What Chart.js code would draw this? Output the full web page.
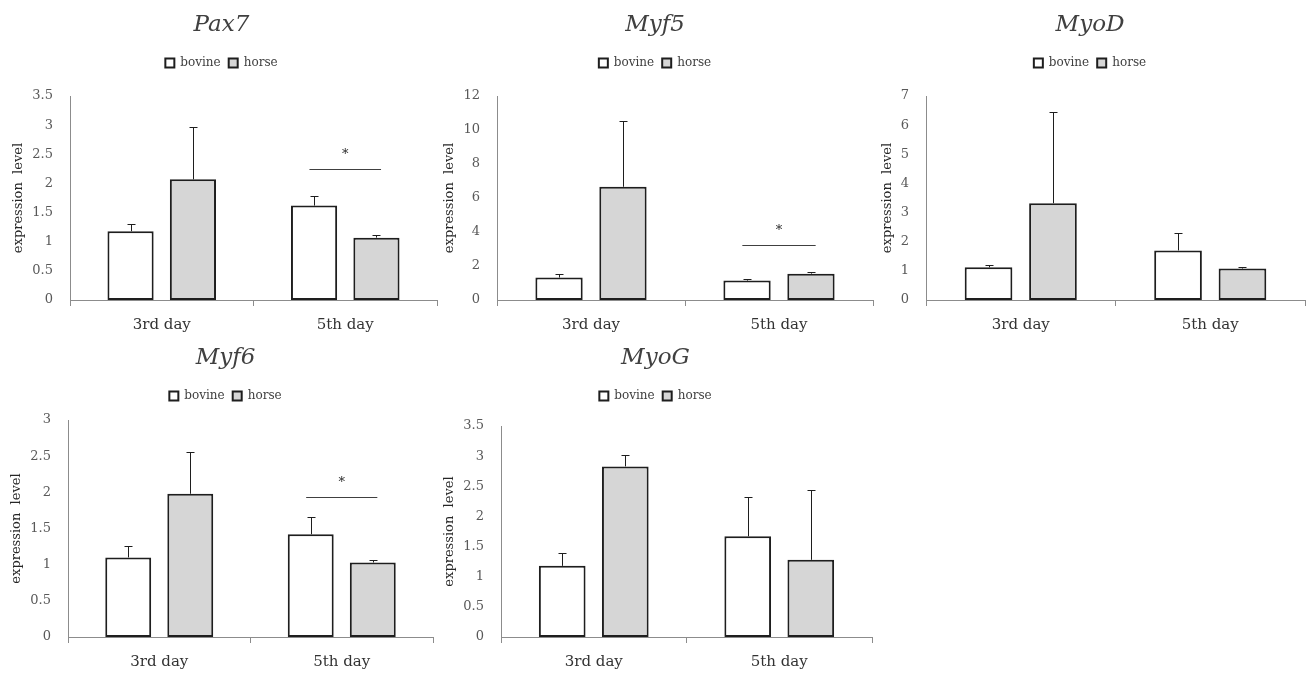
<!DOCTYPE html>
<html>
<head>
<meta charset="utf-8">
<script src="https://cdn.jsdelivr.net/npm/chart.js@4.4.0/dist/chart.umd.min.js"></script>
<style>
  body { margin: 0; background: #fff; overflow: hidden; width: 1309px; height: 673px; position: relative; }
  canvas { position: absolute; }
</style>
</head>
<body>
<script>
// values (mean and upper error bar for each gene)
const genes = ['Pax7', 'Myf5', 'MyoD', 'Myf6', 'MyoG'];
const days = ['3rd day', '5th day'];
const seriesNames = ['bovine', 'horse'];
const bovineMean = [[1.18, 1.62], [1.32, 1.14], [1.12, 1.70], [1.10, 1.42], [1.18, 1.67]];
const horseMean  = [[2.07, 1.07], [6.66, 1.55], [3.32, 1.08], [1.98, 1.03], [2.83, 1.28]];
const bovineErr  = [[0.13, 0.17], [0.20, 0.08], [0.07, 0.60], [0.16, 0.24], [0.21, 0.65]];
const horseErr   = [[0.89, 0.05], [3.85, 0.07], [3.14, 0.04], [0.58, 0.03], [0.19, 1.16]];
// level of the "*" bracket per day (null = none)
const sigLevel   = [[null, 2.25], [null, 3.24], [null, null], [null, 1.94], [null, null]];
const yTicks = [
  [0, 0.5, 1, 1.5, 2, 2.5, 3, 3.5],
  [0, 2, 4, 6, 8, 10, 12],
  [0, 1, 2, 3, 4, 5, 6, 7],
  [0, 0.5, 1, 1.5, 2, 2.5, 3],
  [0, 0.5, 1, 1.5, 2, 2.5, 3, 3.5]
];

// where each panel sits on the page
const frames = [
  { left: 2,   right: 441,  top: 0,   height: 336, yWidth: 68, rightGap: 4,  topGap: 17, yTitlePad: 9.2 },
  { left: 433, right: 877,  top: 0,   height: 336, yWidth: 64, rightGap: 4,  topGap: 17, yTitlePad: 9.2 },
  { left: 871, right: 1309, top: 0,   height: 336, yWidth: 55, rightGap: 4,  topGap: 17, yTitlePad: 9.2 },
  { left: 7,   right: 444,  top: 333, height: 340, yWidth: 61, rightGap: 11, topGap: 8,  yTitlePad: 2.2 },
  { left: 435, right: 876,  top: 333, height: 340, yWidth: 66, rightGap: 4,  topGap: 14, yTitlePad: 7.2 }
];

const serif = "'DejaVu Serif', serif";
const edge = '#1e1e1e';
const axisGray = '#8c8c8c';

// error bars and significance bracket
function marks(g) {
  return {
    id: 'marks',
    afterDatasetsDraw(chart) {
      const ctx = chart.ctx, xs = chart.scales.x, ys = chart.scales.y;
      ctx.save();
      ctx.strokeStyle = edge;
      ctx.lineWidth = 1;
      chart.data.datasets.forEach((ds, i) => {
        chart.getDatasetMeta(i).data.forEach((bar, j) => {
          const x = Math.round(bar.x) + 0.5;
          const y0 = ys.getPixelForValue(ds.data[j]);
          const y1 = Math.round(ys.getPixelForValue(ds.data[j] + ds.err[j])) + 0.5;
          ctx.beginPath();
          ctx.moveTo(x, y0); ctx.lineTo(x, y1);
          ctx.moveTo(x - 4, y1); ctx.lineTo(x + 4, y1);
          ctx.stroke();
        });
      });
      sigLevel[g].forEach((lvl, j) => {
        if (lvl == null) return;
        const cx = xs.getPixelForValue(j);
        const half = 0.195 * (xs.width / days.length);
        const y = Math.round(ys.getPixelForValue(lvl)) + 0.5;
        ctx.strokeStyle = '#404040';
        ctx.beginPath();
        ctx.moveTo(cx - half, y); ctx.lineTo(cx + half, y);
        ctx.stroke();
        ctx.fillStyle = '#262626';
        ctx.font = '13px ' + serif;
        ctx.textAlign = 'center';
        ctx.textBaseline = 'alphabetic';
        ctx.fillText('*', cx, y - 12);
      });
      ctx.restore();
    }
  };
}

genes.forEach((gene, g) => {
  const f = frames[g];
  const ticks = yTicks[g];
  const cv = document.createElement('canvas');
  cv.width = f.right - f.left;
  cv.height = f.height;
  cv.style.left = f.left + 'px';
  cv.style.top = f.top + 'px';
  document.body.appendChild(cv);

  new Chart(cv, {
    type: 'bar',
    data: {
      labels: days,
      datasets: [
        { label: seriesNames[0], data: bovineMean[g], err: bovineErr[g], xAxisID: 'x', yAxisID: 'y',
          backgroundColor: '#ffffff', borderColor: edge, borderWidth: 2, borderSkipped: false,
          categoryPercentage: 0.68, barPercentage: 0.74 },
        { label: seriesNames[1], data: horseMean[g], err: horseErr[g], xAxisID: 'x', yAxisID: 'y',
          backgroundColor: '#d6d6d6', borderColor: edge, borderWidth: 2, borderSkipped: false,
          categoryPercentage: 0.68, barPercentage: 0.74 }
      ]
    },
    options: {
      responsive: false,
      animation: false,
      layout: { padding: 0 },
      plugins: {
        title: {
          display: true, text: gene, color: '#404040',
          font: { family: serif, size: 23, style: 'italic', weight: 'normal' },
          padding: { top: 11.2, bottom: 10.2 }
        },
        legend: {
          labels: { boxWidth: 9, boxHeight: 9, padding: 8, color: '#404040', font: { family: serif, size: 12 } }
        },
        tooltip: { enabled: false }
      },
      scales: {
        x: {
          type: 'category', position: 'bottom',
          grid: { drawOnChartArea: false, drawTicks: true, tickLength: 6, color: axisGray },
          border: { color: axisGray },
          ticks: { color: '#333333', font: { family: serif, size: 15 }, padding: 10 },
          afterFit: s => { s.height = 36; }
        },
        y: {
          type: 'linear', position: 'left', min: 0, max: ticks[ticks.length - 1],
          afterBuildTicks: s => { s.ticks = ticks.map(v => ({ value: v })); },
          ticks: { color: '#595959', font: { family: serif, size: 13 }, padding: 17, callback: v => String(v) },
          grid: { display: false, drawTicks: false },
          border: { color: axisGray },
          title: { display: true, text: 'expression  level', color: '#262626',
                   font: { family: serif, size: 13 }, padding: { top: f.yTitlePad, bottom: 0 } },
          afterFit: s => { s.width = f.yWidth; }
        },
        xTop: {
          type: 'linear', position: 'top',
          ticks: { display: false }, grid: { display: false }, border: { display: false },
          afterFit: s => { s.height = f.topGap; }
        },
        yRight: {
          type: 'linear', position: 'right',
          ticks: { display: false }, grid: { display: false }, border: { display: false },
          afterFit: s => { s.width = f.rightGap; }
        }
      }
    },
    plugins: [marks(g)]
  });
});
</script>
</body>
</html>
